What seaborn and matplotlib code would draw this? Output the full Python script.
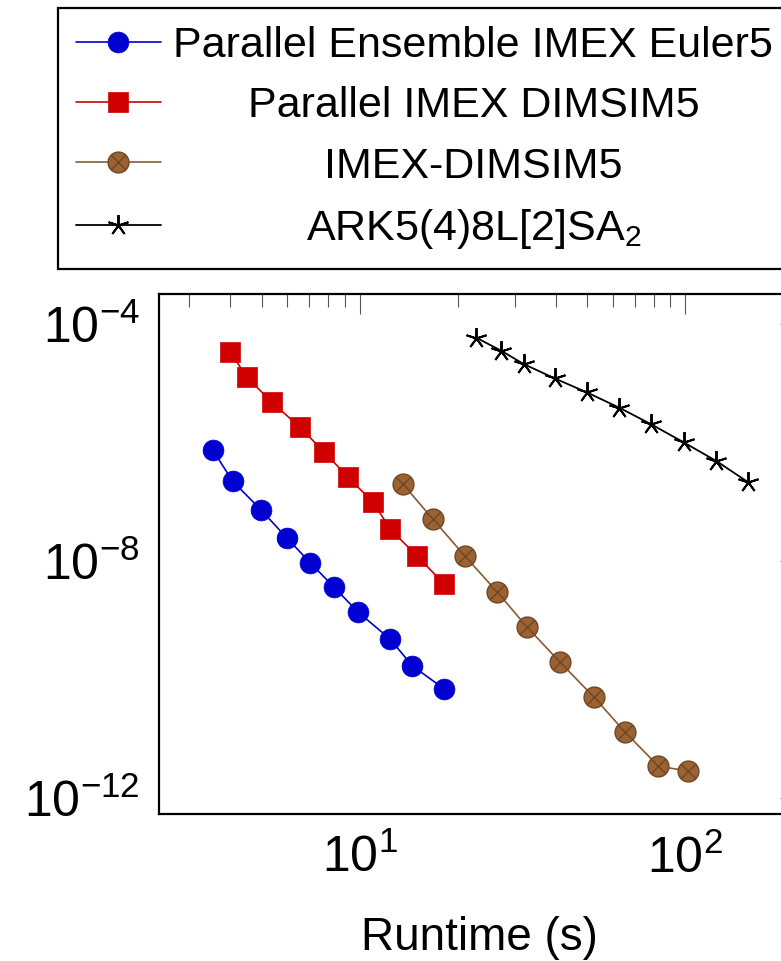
import numpy as np
import pandas as pd
import matplotlib
matplotlib.use("Agg")
import matplotlib.pyplot as plt
import seaborn as sns
from matplotlib.ticker import LogLocator, NullLocator, FixedLocator
from matplotlib.legend_handler import HandlerTuple

sns.set_style("white")
plt.rcParams["font.family"] = ["Liberation Sans", "DejaVu Sans"]
plt.rcParams["mathtext.fontset"] = "custom"
plt.rcParams["mathtext.rm"] = "Liberation Sans"
plt.rcParams["mathtext.it"] = "Liberation Sans:italic"
plt.rcParams["mathtext.bf"] = "Liberation Sans:bold"
for k in ["text.color", "axes.labelcolor", "xtick.labelcolor", "ytick.labelcolor"]:
    plt.rcParams[k] = "black"

# ---------------- data ----------------
labels = ["Parallel Ensemble IMEX Euler5", "Parallel IMEX DIMSIM5",
          "IMEX-DIMSIM5", r"ARK5(4)8L[2]SA$_2$"]

euler_time = [3.54, 4.07, 4.98, 5.97, 7.05, 8.32, 9.89, 12.4, 14.5, 18.2]
euler_err = [7.5e-7, 2.25e-7, 7.28e-8, 2.47e-8, 9.35e-9, 3.67e-9, 1.37e-9,
             4.8e-10, 1.7e-10, 6.86e-11]

pdimsim_time = [4.0, 4.51, 5.37, 6.54, 7.78, 9.19, 11.0, 12.4, 15.0, 18.2]
pdimsim_err = [3.44e-5, 1.27e-5, 4.86e-6, 1.84e-6, 6.95e-7, 2.65e-7, 9.8e-8,
               3.5e-8, 1.21e-8, 4.08e-9]

dimsim_time = [13.6, 16.8, 21.0, 26.4, 32.6, 41.2, 52.5, 65.2, 82.6, 101.8]
dimsim_err = [1.98e-7, 5.06e-8, 1.23e-8, 3.03e-9, 7.75e-10, 1.96e-10,
              4.97e-11, 1.30e-11, 3.43e-12, 2.82e-12]

ark_time = [22.8, 27.2, 31.9, 39.7, 49.8, 62.7, 78.6, 98.9, 124.5, 155.6]
ark_err = [5.94e-5, 3.58e-5, 2.13e-5, 1.22e-5, 7.09e-6, 3.9e-6, 2.04e-6,
           1.01e-6, 4.9e-7, 2.16e-7]

y_ticks = [1e-12, 1e-8, 1e-4]

# ---------------- figure ----------------
W, H = 781, 961
fig = plt.figure(figsize=(W / 100, H / 100), dpi=100)
ax = fig.add_axes([159 / W, 1 - 814 / H, (800 - 159) / W, (814 - 294) / H])

blue = "#0000D0"
red = "#D00000"
brown_fill = "#9C6232"
brown_edge = "#6E4726"
brown_line = "#8A5A30"

sns.lineplot(x=euler_time, y=euler_err, ax=ax, sort=False, estimator=None,
             color=blue, linewidth=1.2, marker="o", markersize=15,
             markeredgewidth=0.5, markeredgecolor=blue, markerfacecolor=blue)
sns.lineplot(x=pdimsim_time, y=pdimsim_err, ax=ax, sort=False, estimator=None,
             color=red, linewidth=1.2, marker="s", markersize=15,
             markeredgewidth=0.5, markeredgecolor=red, markerfacecolor=red)
sns.lineplot(x=dimsim_time, y=dimsim_err, ax=ax, sort=False, estimator=None,
             color=brown_line, linewidth=1.2, marker="o", markersize=15,
             markeredgewidth=1.0, markeredgecolor=brown_edge,
             markerfacecolor=brown_fill)
sns.lineplot(x=dimsim_time, y=dimsim_err, ax=ax, sort=False, estimator=None,
             linestyle="none", marker="x", markersize=10.5, color=brown_edge,
             markeredgewidth=1.0, markeredgecolor=brown_edge)
sns.lineplot(x=ark_time, y=ark_err, ax=ax, sort=False, estimator=None,
             color="black", linewidth=1.3, marker=(5, 2, 0), markersize=15,
             markeredgewidth=1.4, markeredgecolor="black")

lines = ax.get_lines()
h_euler, h_pd, h_dc, h_dx, h_ark = lines[:5]

ax.set_xscale("log")
ax.set_yscale("log")
ax.set_xlim(2.42, 225)
ax.set_ylim(10 ** -12.275, 10 ** -3.488)

ax.xaxis.set_major_locator(LogLocator(base=10))
ax.xaxis.set_minor_locator(LogLocator(base=10, subs=np.arange(2, 10)))
ax.yaxis.set_major_locator(FixedLocator(y_ticks))
ax.yaxis.set_minor_locator(NullLocator())

ax.tick_params(which="both", direction="in", top=True, right=True,
               color="#555555", width=0.8, labelcolor="black")
ax.tick_params(which="major", length=14.5, labelsize=36)
ax.tick_params(which="minor", length=9.5)
ax.tick_params(axis="x", which="major", pad=15)
ax.tick_params(axis="y", which="major", pad=14)

for sp in ax.spines.values():
    sp.set_color("black")
    sp.set_linewidth(1.6)
    sp.set_visible(True)

ax.set_xlabel("Runtime (s)", fontsize=33, labelpad=24, color="black")
ax.set_ylabel("")

leg = fig.legend([h_euler, h_pd, (h_dc, h_dx), h_ark], labels,
                 loc="upper left", bbox_to_anchor=(58 / W, 1 - 8 / H),
                 bbox_transform=fig.transFigure, borderaxespad=0,
                 fontsize=31, frameon=True, fancybox=False, framealpha=1,
                 edgecolor="black", handlelength=1.97, handletextpad=0.29,
                 borderpad=0.42, labelspacing=0.47,
                 handler_map={tuple: HandlerTuple(ndivide=1)})
leg.get_frame().set_linewidth(1.6)
for t in leg.get_texts():
    t.set_color("black")

# center legend texts as in the original (pgfplots style)
fig.canvas.draw()
texts = leg.get_texts()
widths = [t.get_window_extent().width for t in texts]
wmax = max(widths)
for t, w in zip(texts, widths):
    t.set_position(((wmax - w) / 2, 0))

fig.savefig("out.png", dpi=100)
